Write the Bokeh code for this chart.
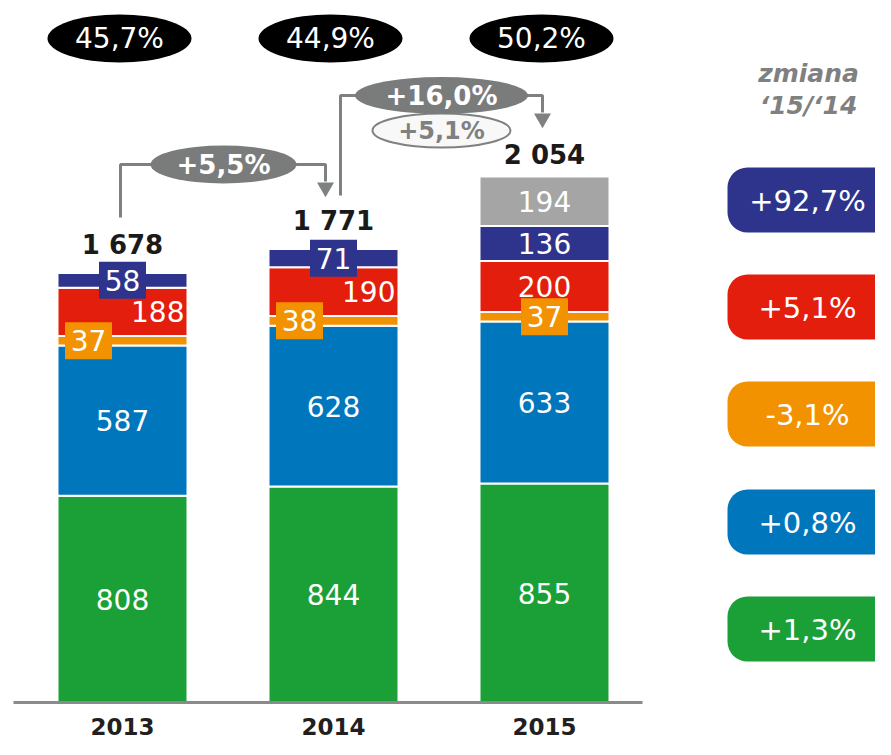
from bokeh.plotting import figure
from bokeh.models import Range1d
from bokeh.core.properties import value
from bokeh.embed import file_html
from bokeh.resources import INLINE

# ---------------- data ----------------
years = ["2013", "2014", "2015"]
green = [808, 844, 855]
blue = [587, 628, 633]
orange = [37, 38, 37]
red = [188, 190, 200]
navy = [58, 71, 136]
grey = [0, 0, 194]
totals = ["1 678", "1 771", "2 054"]
shares = ["45,7%", "44,9%", "50,2%"]
growth_main = ["+5,5%", "+16,0%"]
growth_sub = "+5,1%"
change_title = ["zmiana", "\u201815/\u201814"]
change_labels = ["+92,7%", "+5,1%", "-3,1%", "+0,8%", "+1,3%"]  # navy, red, orange, blue, green

# ---------------- styles ----------------
C_GREEN = "#1ba037"
C_BLUE = "#0076bd"
C_ORANGE = "#f39200"
C_RED = "#e41e0c"
C_NAVY = "#2e348c"
C_GREY = "#a4a5a4"
C_LINE = "#7f8080"
FONT = value("DejaVu Sans")

series = [("green", green, C_GREEN), ("blue", blue, C_BLUE), ("orange", orange, C_ORANGE),
          ("red", red, C_RED), ("navy", navy, C_NAVY), ("grey", grey, C_GREY)]

W, H = 875, 739
BASE = 702.0   # screen y of the baseline
K = 0.256      # px per unit
X0, STEP, BW = 122.0, 211.0, 130.0
cx = [X0 + i * STEP for i in range(len(years))]
total_gap = [13, 13, 6]   # px between bar top and total label


def Y(s):
    return (BASE - s) / K


p = figure(width=W, height=H, x_range=Range1d(0, W), y_range=Range1d(Y(H), Y(0)),
           output_backend="svg", toolbar_location=None, title=None, min_border=0,
           min_border_left=0, min_border_right=0, min_border_top=0, min_border_bottom=0)
p.axis.visible = False
p.grid.visible = False
p.outline_line_color = None
p.background_fill_color = "white"
p.border_fill_color = "white"

# ---------------- stacked bars ----------------
bottoms = [0.0] * len(years)
seg = {}
for name, vals, col in series:
    xs, b, t = [], [], []
    for i, v in enumerate(vals):
        if v > 0:
            xs.append(cx[i]); b.append(bottoms[i]); t.append(bottoms[i] + v)
    seg[name] = [(bottoms[i], bottoms[i] + vals[i]) for i in range(len(years))]
    p.vbar(x=xs, bottom=b, top=t, width=BW, fill_color=col, line_color="white", line_width=2)
    bottoms = [bottoms[i] + vals[i] for i in range(len(years))]

# baseline
p.line(x=[13, 642], y=[0, 0], line_color="#8a8a8a", line_width=3)

# ---------------- segment labels ----------------
label_tweaks = {
    ("orange", 0): dict(dx=-34, box=True), ("orange", 1): dict(dx=-34, box=True), ("orange", 2): dict(dx=0, box=True),
    ("red", 0): dict(align="right"), ("red", 1): dict(align="right"),
    ("navy", 0): dict(box=True), ("navy", 1): dict(box=True),
}
for name, vals, col in series:
    for i, v in enumerate(vals):
        if v <= 0:
            continue
        b0, t0 = seg[name][i]
        yc = (b0 + t0) / 2
        tw = label_tweaks.get((name, i), {})
        align = tw.get("align", "center")
        if align == "right":
            x = cx[i] + BW / 2 - 3
        else:
            x = cx[i] + tw.get("dx", 0)
        if tw.get("box"):
            p.rect(x=[x], y=[yc], width=47, height=37, width_units="screen", height_units="screen",
                   fill_color=col, line_color=None)
        p.text(x=[x], y=[yc], text=[str(v)], text_align=align, text_baseline="middle",
               text_color="white", text_font=FONT, text_font_size="28px")

# totals
tops = [sum(s[1][i] for s in series) for i in range(len(years))]
p.text(x=cx, y=[t + g / K for t, g in zip(tops, total_gap)], text=totals, text_align="center",
       text_baseline="bottom", text_color="#1a1a1a", text_font=FONT, text_font_size="26px",
       text_font_style="bold")

# year labels
p.text(x=cx, y=[Y(726)] * 3, text=years, text_align="center", text_baseline="middle",
       text_color="#231f20", text_font=FONT, text_font_size="23px", text_font_style="bold")

# ---------------- share ovals ----------------
oval_x = [c - 3 for c in cx]
p.ellipse(x=oval_x, y=[Y(38)] * 3, width=144, height=48, width_units="screen", height_units="screen",
          fill_color="black", line_color=None)
p.text(x=oval_x, y=[Y(38)] * 3, text=shares, text_align="center", text_baseline="middle",
       text_color="white", text_font=FONT, text_font_size="28px")

# ---------------- growth connectors ----------------
# 2013 -> 2014
l1, r1, yl1 = cx[0] - 2, cx[1] - 8, 164
e1x = (l1 + r1) / 2 + 0.5
p.line(x=[l1, l1, e1x], y=[Y(217), Y(yl1), Y(yl1)], line_color=C_LINE, line_width=3)
p.line(x=[e1x, r1, r1], y=[Y(yl1), Y(yl1), Y(181)], line_color=C_LINE, line_width=3)
p.scatter(x=[r1], y=[Y(187)], marker="inverted_triangle", size=17, fill_color=C_LINE, line_color=None)
p.ellipse(x=[e1x], y=[Y(yl1)], width=146, height=38, width_units="screen", height_units="screen",
          fill_color="#7a7c7c", line_color=None)
p.text(x=[e1x], y=[Y(yl1)], text=[growth_main[0]], text_align="center", text_baseline="middle",
       text_color="white", text_font=FONT, text_font_size="26px", text_font_style="bold")

# 2014 -> 2015
l2, r2, yl2 = cx[1] + 7, cx[2] - 2, 95
e2x = 441
p.line(x=[l2, l2, e2x], y=[Y(195), Y(yl2), Y(yl2)], line_color=C_LINE, line_width=3)
p.line(x=[e2x, r2, r2], y=[Y(yl2), Y(yl2), Y(112)], line_color=C_LINE, line_width=3)
p.scatter(x=[r2], y=[Y(118)], marker="inverted_triangle", size=17, fill_color=C_LINE, line_color=None)
p.ellipse(x=[e2x], y=[Y(130)], width=138, height=34, width_units="screen", height_units="screen",
          fill_color="#f8f8f8", line_color=C_LINE, line_width=2)
p.text(x=[e2x], y=[Y(130)], text=[growth_sub], text_align="center", text_baseline="middle",
       text_color=C_LINE, text_font=FONT, text_font_size="24px", text_font_style="bold")
p.ellipse(x=[e2x], y=[Y(yl2)], width=173, height=37, width_units="screen", height_units="screen",
          fill_color="#7a7c7c", line_color=None)
p.text(x=[e2x], y=[Y(yl2)], text=[growth_main[1]], text_align="center", text_baseline="middle",
       text_color="white", text_font=FONT, text_font_size="26px", text_font_style="bold")

# ---------------- change column ----------------
p.text(x=[808, 808], y=[Y(73), Y(105)], text=change_title, text_align="center", text_baseline="middle",
       text_color=C_LINE, text_font=FONT, text_font_size="25px", text_font_style="bold italic")
pill_tops = [167, 274, 381, 489, 596]
pill_cols = [C_NAVY, C_RED, C_ORANGE, C_BLUE, C_GREEN]
p.quad(left=[727] * 5, right=[895] * 5, top=[Y(t) for t in pill_tops], bottom=[Y(t + 65) for t in pill_tops],
       fill_color=pill_cols, line_color=None, border_radius=20)
p.text(x=[807] * 5, y=[Y(t + 33) for t in pill_tops], text=change_labels, text_align="center",
       text_baseline="middle", text_color="white", text_font=FONT, text_font_size="29px")

open("out.html", "w").write(file_html(p, INLINE))
